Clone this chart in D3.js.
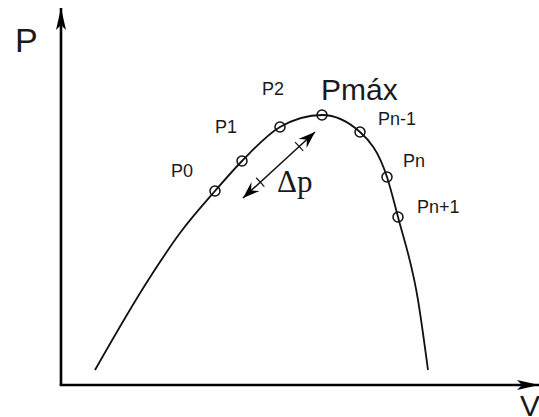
<!DOCTYPE html>
<html>
<head>
<meta charset="utf-8">
<script src="https://cdn.jsdelivr.net/npm/d3@7"></script>
<style>
  body { margin: 0; background: #fff; }
  text { font-family: "Liberation Sans", Arial, sans-serif; fill: #1a1a1a; }
  text.serif { font-family: "Liberation Serif", "Times New Roman", serif; }
</style>
</head>
<body>
<script>
// P-V curve (arbitrary units: V right, P up)
curveV = [34, 86, 119, 154, 181, 219, 261, 299, 326, 337, 357, 367];
curveP = [15, 103, 152, 194, 224, 258, 270, 253, 208, 168, 85, 15];

// sampled operating points on the curve
markLabels = ["P0", "P1", "P2", "Pmáx", "Pn-1", "Pn", "Pn+1"];
markV = [154, 181, 219, 261, 299, 326, 337];
markP = [194, 224, 258, 270, 253, 208, 168];
// label anchors (same units)
labelV = [110, 154, 201, 260, 317, 342, 356];
labelP = [208, 252, 290, 285, 260, 218, 172];
labelSize = [18, 18, 18, 30, 18, 18, 18];

// delta p step arrow, parallel to the rising side
deltaV = [182, 254];
deltaP = [187, 253];

var W = 539, H = 417;

var svg = d3.select("body").append("svg")
    .attr("width", W)
    .attr("height", H);

// one unit = one pixel, origin where the axes meet
var x = d3.scaleLinear().domain([0, 478]).range([61, 539]);
var y = d3.scaleLinear().domain([0, 377]).range([385, 8]);

var defs = svg.append("defs");
// big axis arrow heads
defs.append("marker").attr("id", "axisHead")
    .attr("viewBox", "-22 -6 24 12")
    .attr("refX", 0).attr("refY", 0)
    .attr("markerWidth", 24).attr("markerHeight", 12)
    .attr("markerUnits", "userSpaceOnUse")
    .attr("orient", "auto")
    .append("path")
    .attr("d", "M0,0 L-22,-5 L-17,0 L-22,5 Z")
    .attr("fill", "#000");
// swept arrow heads for delta p
defs.append("marker").attr("id", "dHead")
    .attr("viewBox", "-18 -7 20 14")
    .attr("refX", 0).attr("refY", 0)
    .attr("markerWidth", 20).attr("markerHeight", 14)
    .attr("markerUnits", "userSpaceOnUse")
    .attr("orient", "auto-start-reverse")
    .append("path")
    .attr("d", "M0,0 L-17,-6 L-11,0 L-17,6 Z")
    .attr("fill", "#000");

// axes
svg.append("line")
    .attr("x1", x(0)).attr("y1", y(0))
    .attr("x2", x(0)).attr("y2", y(377))
    .attr("stroke", "#000").attr("stroke-width", 2.6)
    .attr("marker-end", "url(#axisHead)");
svg.append("line")
    .attr("x1", x(0) - 1.3).attr("y1", y(0))
    .attr("x2", x(478)).attr("y2", y(0))
    .attr("stroke", "#000").attr("stroke-width", 2.6)
    .attr("marker-end", "url(#axisHead)");

svg.append("text").attr("x", 15).attr("y", 52)
    .attr("font-size", 34).text("P");
svg.append("text").attr("x", 520).attr("y", 416)
    .attr("font-size", 30).text("V");

// the curve
var pts = curveV.map(function(v, i) { return [v, curveP[i]]; });
var line = d3.line()
    .x(function(d) { return x(d[0]); })
    .y(function(d) { return y(d[1]); })
    .curve(d3.curveMonotoneX);

svg.append("path").datum(pts)
    .attr("d", line)
    .attr("fill", "none")
    .attr("stroke", "#111")
    .attr("stroke-width", 1.8);

// point markers
for (var i = 0; i < markV.length; i++) {
    svg.append("circle")
        .attr("cx", x(markV[i])).attr("cy", y(markP[i]))
        .attr("r", 5)
        .attr("fill", "none")
        .attr("stroke", "#111")
        .attr("stroke-width", 1.5);
    svg.append("text")
        .attr("x", x(labelV[i])).attr("y", y(labelP[i]))
        .attr("font-size", labelSize[i])
        .text(markLabels[i]);
}

// delta p arrow with two cross ticks
var ax = x(deltaV[0]), ay = y(deltaP[0]), bx = x(deltaV[1]), by = y(deltaP[1]);
svg.append("line")
    .attr("x1", ax).attr("y1", ay).attr("x2", bx).attr("y2", by)
    .attr("stroke", "#111").attr("stroke-width", 1.5)
    .attr("marker-start", "url(#dHead)")
    .attr("marker-end", "url(#dHead)");

var len = Math.hypot(bx - ax, by - ay);
var ux = (bx - ax) / len, uy = (by - ay) / len;
[0.24, 0.78].forEach(function(t) {
    var cx = ax + (bx - ax) * t, cy = ay + (by - ay) * t;
    svg.append("line")
        .attr("x1", cx + uy * 6).attr("y1", cy - ux * 6)
        .attr("x2", cx - uy * 6).attr("y2", cy + ux * 6)
        .attr("stroke", "#111").attr("stroke-width", 1.2);
});

svg.append("text")
    .attr("class", "serif")
    .attr("x", 277).attr("y", 192)
    .attr("font-size", 31)
    .text("Δp");
</script>
</body>
</html>
